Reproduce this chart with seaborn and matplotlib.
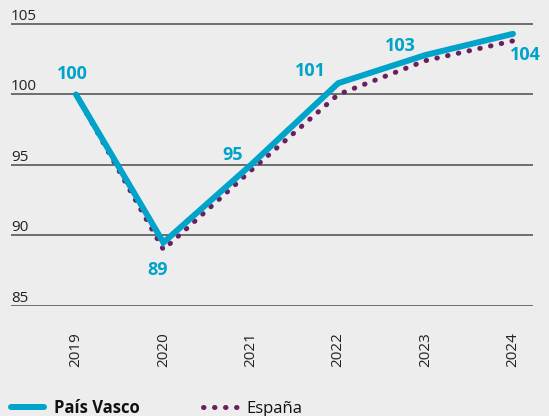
import pandas as pd
import matplotlib
matplotlib.use("Agg")
import matplotlib.pyplot as plt
import seaborn as sns
from matplotlib.lines import Line2D

# --- Data (index, 2019 = 100) ---
YEARS = [2019, 2020, 2021, 2022, 2023, 2024]
PAIS_VASCO = [100.0, 89.5, 95.0, 100.8, 102.8, 104.3]
ESPANA = [100.0, 89.0, 94.6, 100.0, 102.4, 103.8]
LABELS = ["100", "89", "95", "101", "103", "104"]
# label offsets in pixels from each País Vasco point
LABEL_OFFSETS = [(-4, 20), (-6, -27), (-18, 10), (-28, 12), (-25, 9), (12, -21)]
Y_TICKS = [85, 90, 95, 100, 105]

BG = "#ecedec"
BLUE = "#00a3c9"
PURPLE = "#6b1f60"
GRID = "#4a4a4a"
DOTS = (0, (0.1, 2.1))

df = pd.DataFrame({
    "year": YEARS * 2,
    "value": PAIS_VASCO + ESPANA,
    "region": ["País Vasco"] * len(YEARS) + ["España"] * len(YEARS),
})

sns.set_theme(style="white")
plt.rcParams["font.family"] = ["Open Sans", "DejaVu Sans"]

fig = plt.figure(figsize=(5.49, 4.16), dpi=100, facecolor=BG)
ax = fig.add_axes([0.02, 1 - 306 / 416, 0.951, 306 / 416])
ax.set_facecolor(BG)

# --- Lines ---
sns.lineplot(data=df[df.region == "España"], x="year", y="value", ax=ax,
             color=PURPLE, lw=3.6, zorder=2)
sns.lineplot(data=df[df.region == "País Vasco"], x="year", y="value", ax=ax,
             color=BLUE, lw=4.3, solid_capstyle="round", solid_joinstyle="miter",
             zorder=3)
esp_line = ax.get_lines()[0]
esp_line.set_linestyle(DOTS)
esp_line.set_dash_capstyle("round")

# --- Value labels ---
for x, y, lab, off in zip(YEARS, PAIS_VASCO, LABELS, LABEL_OFFSETS):
    ax.annotate(lab, (x, y), xytext=off, textcoords="offset pixels",
                ha="center", va="center", color=BLUE, fontsize=13,
                fontweight="bold")

# --- Axes styling ---
ax.set_xlim(2018.256, 2024.23)
ax.set_ylim(85, 106.7)
ax.set_yticks(Y_TICKS)
ax.set_xticks(YEARS)
ax.set_xticklabels([str(y) for y in YEARS], rotation=90)
for yv in Y_TICKS:
    ax.axhline(yv, color=GRID, lw=1.1, zorder=1)

ax.tick_params(axis="y", length=0, pad=0, labelsize=11, labelcolor="#222222")
ax.tick_params(axis="x", length=0, pad=19, labelsize=11, labelcolor="#222222")
plt.setp(ax.get_yticklabels(), ha="left", va="bottom")
for s in ax.spines.values():
    s.set_visible(False)
ax.set_xlabel("")
ax.set_ylabel("")
if ax.get_legend():
    ax.get_legend().remove()

# --- Legend ---
handles = [
    Line2D([], [], color=BLUE, lw=4.3),
    Line2D([], [], color=PURPLE, lw=3.6, linestyle=DOTS, dash_capstyle="round"),
]
leg = fig.legend(handles, ["País Vasco", "España"], loc="center left",
                 bbox_to_anchor=(0.02, 1 - 408 / 416), ncol=2, frameon=False,
                 borderaxespad=0, borderpad=0, handlelength=2.0,
                 handletextpad=0.6, columnspacing=3.8, fontsize=12)
leg.get_texts()[0].set_fontweight("bold")
for t in leg.get_texts():
    t.set_color("#111111")

fig.savefig("out.png", dpi=100, facecolor=BG)
